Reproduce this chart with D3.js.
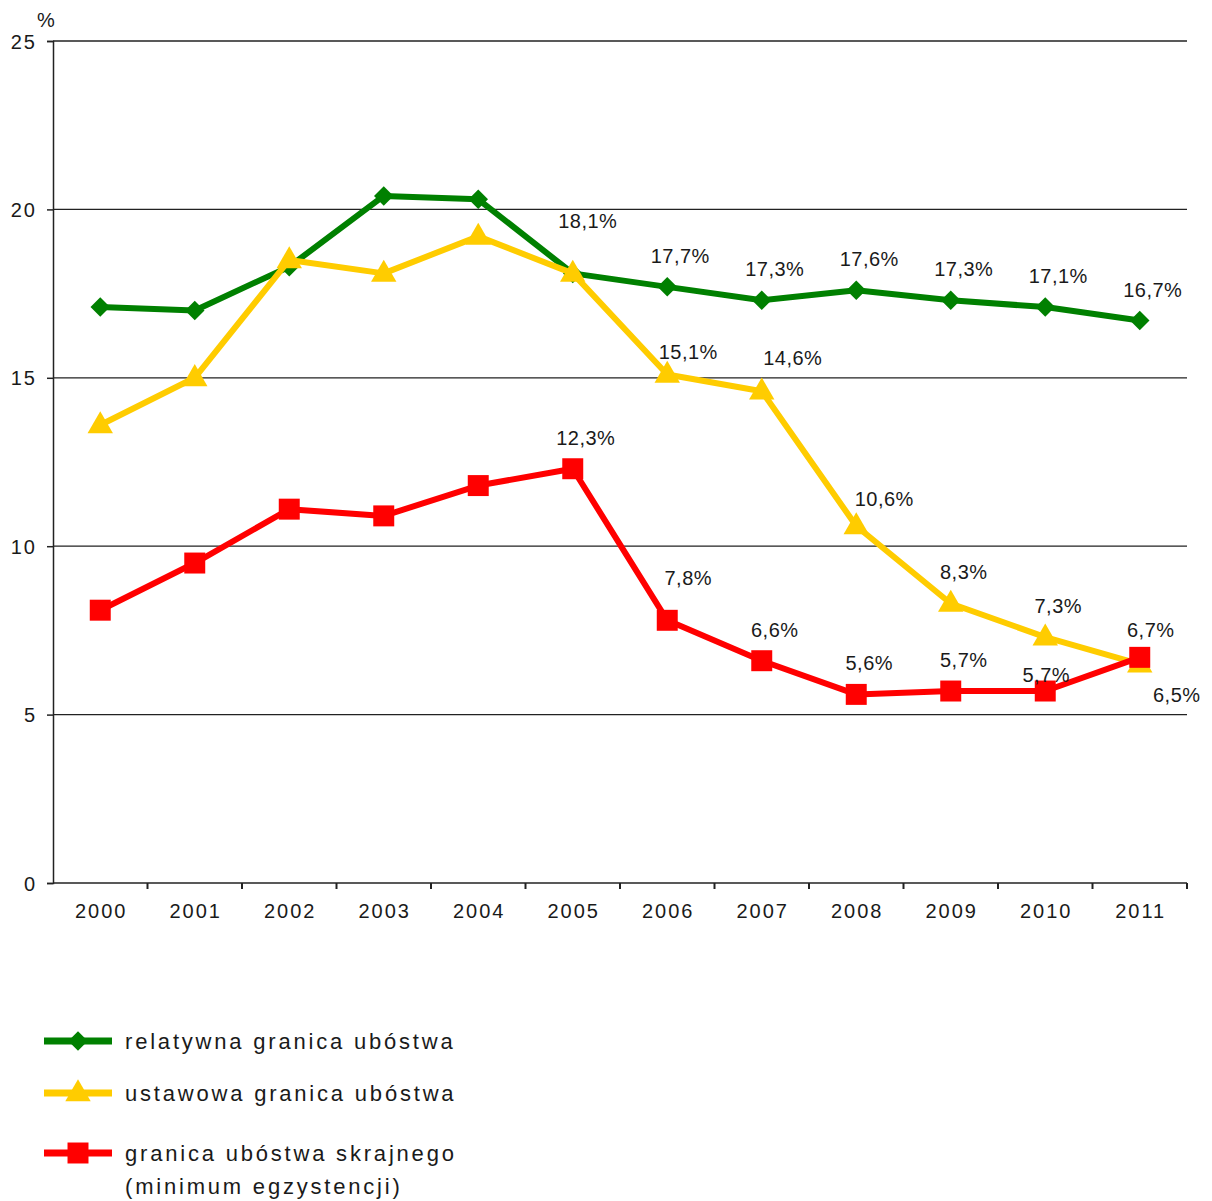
<!DOCTYPE html>
<html lang="pl">
<head>
  <meta charset="UTF-8">
  <title>Granice ubóstwa 2000-2011</title>
  <script src="https://d3js.org/d3.v7.min.js"></script>
  <style>
    body { margin: 0; background: #fff; }
    svg { font-family: "Liberation Sans", Arial, sans-serif; }
    .tick-label { font-size: 20px; fill: #1a1a1a; letter-spacing: 2px; }
    .value-label { font-size: 20px; fill: #1a1a1a; letter-spacing: 0.5px; }
    .legend-label { font-size: 22px; fill: #1a1a1a; letter-spacing: 2.8px; }
  </style>
</head>
<body>
<div id="chart"></div>
<script>
  // data
  const years = ["2000", "2001", "2002", "2003", "2004", "2005", "2006", "2007", "2008", "2009", "2010", "2011"];
  const relatywna = [17.1, 17.0, 18.3, 20.4, 20.3, 18.1, 17.7, 17.3, 17.6, 17.3, 17.1, 16.7];
  const ustawowa  = [13.6, 15.0, 18.5, 18.1, 19.2, 18.1, 15.1, 14.6, 10.6, 8.3, 7.3, 6.5];
  const skrajna   = [8.1, 9.5, 11.1, 10.9, 11.8, 12.3, 7.8, 6.6, 5.6, 5.7, 5.7, 6.7];
  const yTicks = [0, 5, 10, 15, 20, 25];
  const legendNames = [
    ["relatywna granica ubóstwa"],
    ["ustawowa granica ubóstwa"],
    ["granica ubóstwa skrajnego", "(minimum egzystencji)"]
  ];
  // years that get a value label, per series
  const labelledFrom = [5, 6, 5];

  const series = [
    { values: relatywna, color: "#008000", shape: "diamond" },
    { values: ustawowa,  color: "#ffcc00", shape: "triangle" },
    { values: skrajna,   color: "#ff0000", shape: "square" }
  ];

  // label nudges (series index - year index) where the default spot collides
  const nudge = {
    "0-5": [15, -52], "1-6": [21, -22], "1-7": [31, -33], "1-8": [28, -27],
    "1-11": [37, 31], "2-6": [21, -42], "2-10": [1, -16], "2-11": [11, -27]
  };

  const W = 1212, H = 1201;
  const plot = { left: 53, right: 1187, top: 41, bottom: 883 };

  const svg = d3.select("#chart").append("svg")
    .attr("width", W).attr("height", H);

  const x = d3.scaleBand().domain(years).range([plot.left, plot.right]);
  const y = d3.scaleLinear().domain([0, 25]).range([plot.bottom, plot.top]);
  const cx = d => x(d) + x.bandwidth() / 2;

  // gridlines
  svg.append("g").selectAll("line")
    .data(yTicks.filter(t => t > 0))
    .join("line")
    .attr("x1", plot.left).attr("x2", plot.right)
    .attr("y1", d => y(d)).attr("y2", d => y(d))
    .attr("stroke", "#222").attr("stroke-width", 1.3);

  // y axis
  const yAxis = svg.append("g")
    .attr("transform", `translate(${plot.left},0)`)
    .call(d3.axisLeft(y).tickValues(yTicks).tickSize(6).tickPadding(10));
  yAxis.select(".domain").attr("stroke", "#222").attr("stroke-width", 1.5);
  yAxis.selectAll(".tick line").attr("stroke", "#222").attr("stroke-width", 1.5);
  yAxis.selectAll(".tick text").attr("class", "tick-label").attr("font-size", null)
    .attr("font-family", null).attr("dy", "0.35em");

  svg.append("text")
    .attr("class", "tick-label")
    .attr("x", 47).attr("y", 27)
    .attr("text-anchor", "middle")
    .text("%");

  // x axis: ticks between the categories
  const xg = svg.append("g");
  xg.append("line")
    .attr("x1", plot.left).attr("x2", plot.right)
    .attr("y1", plot.bottom).attr("y2", plot.bottom)
    .attr("stroke", "#222").attr("stroke-width", 1.5);
  xg.selectAll(".xt")
    .data(years.slice(1).concat(["end"]))
    .join("line")
    .attr("x1", d => d === "end" ? plot.right : x(d))
    .attr("x2", d => d === "end" ? plot.right : x(d))
    .attr("y1", plot.bottom).attr("y2", plot.bottom + 6)
    .attr("stroke", "#222").attr("stroke-width", 2);
  xg.selectAll(".xl")
    .data(years)
    .join("text")
    .attr("class", "tick-label")
    .attr("x", d => cx(d) + 1)
    .attr("y", plot.bottom + 35)
    .attr("text-anchor", "middle")
    .text(d => d);

  const line = d3.line()
    .x((d, i) => cx(years[i]))
    .y(d => y(d));

  function marker(shape, color, sel) {
    if (shape === "diamond") {
      sel.append("path")
        .attr("d", d3.symbol(d3.symbolSquare, 190)())
        .attr("transform", "rotate(45)")
        .attr("fill", color);
    } else if (shape === "triangle") {
      sel.append("path")
        .attr("d", d3.symbol(d3.symbolTriangle, 280)())
        .attr("transform", "translate(0,1)")
        .attr("fill", color);
    } else {
      sel.append("path")
        .attr("d", d3.symbol(d3.symbolSquare, 440)())
        .attr("fill", color);
    }
  }

  series.forEach((s, si) => {
    svg.append("path")
      .datum(s.values)
      .attr("fill", "none")
      .attr("stroke", s.color)
      .attr("stroke-width", 6)
      .attr("stroke-linejoin", "round")
      .attr("d", line);

    const pts = svg.append("g").selectAll("g")
      .data(s.values)
      .join("g")
      .attr("transform", (d, i) => `translate(${cx(years[i])},${y(d)})`);
    marker(s.shape, s.color, pts);
  });

  // value labels drawn on top
  series.forEach((s, si) => {
    svg.append("g").selectAll("text")
      .data(s.values.map((v, i) => ({ v, i })).filter(d => d.i >= labelledFrom[si]))
      .join("text")
      .attr("class", "value-label")
      .attr("text-anchor", "middle")
      .attr("x", d => cx(years[d.i]) + (nudge[si + "-" + d.i] || [13, -31])[0])
      .attr("y", d => y(d.v) + (nudge[si + "-" + d.i] || [13, -31])[1])
      .attr("dy", "0.35em")
      .text(d => d.v.toFixed(1).replace(".", ",") + "%");
  });

  // legend
  const legendY = [1041, 1093, 1153];
  series.forEach((s, si) => {
    const g = svg.append("g").attr("transform", `translate(0,${legendY[si]})`);
    g.append("line")
      .attr("x1", 44).attr("x2", 112)
      .attr("stroke", s.color).attr("stroke-width", 7);
    const m = g.append("g").attr("transform", "translate(78,0)");
    marker(s.shape, s.color, m);
    g.append("text")
      .attr("class", "legend-label")
      .selectAll("tspan")
      .data(legendNames[si])
      .join("tspan")
      .attr("x", 125)
      .attr("y", (d, i) => i * 33)
      .attr("dy", "0.35em")
      .text(d => d);
  });
</script>
</body>
</html>
